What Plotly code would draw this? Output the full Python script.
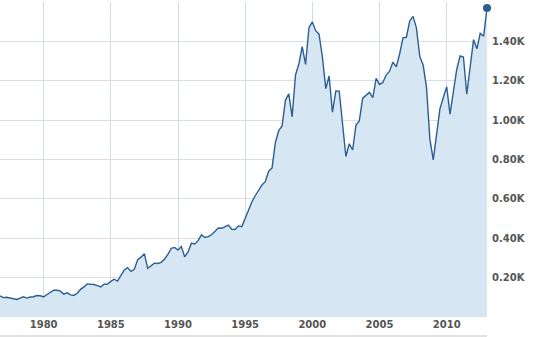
import plotly.graph_objects as go

# Quarterly values (dated at quarter start), 1976 Q4 .. 2013 Q1
quarters = [
    "1976-10-01",
    "1977-01-01", "1977-04-01", "1977-07-01", "1977-10-01",
    "1978-01-01", "1978-04-01", "1978-07-01", "1978-10-01",
    "1979-01-01", "1979-04-01", "1979-07-01", "1979-10-01",
    "1980-01-01", "1980-04-01", "1980-07-01", "1980-10-01",
    "1981-01-01", "1981-04-01", "1981-07-01", "1981-10-01",
    "1982-01-01", "1982-04-01", "1982-07-01", "1982-10-01",
    "1983-01-01", "1983-04-01", "1983-07-01", "1983-10-01",
    "1984-01-01", "1984-04-01", "1984-07-01", "1984-10-01",
    "1985-01-01", "1985-04-01", "1985-07-01", "1985-10-01",
    "1986-01-01", "1986-04-01", "1986-07-01", "1986-10-01",
    "1987-01-01", "1987-04-01", "1987-07-01", "1987-10-01",
    "1988-01-01", "1988-04-01", "1988-07-01", "1988-10-01",
    "1989-01-01", "1989-04-01", "1989-07-01", "1989-10-01",
    "1990-01-01", "1990-04-01", "1990-07-01", "1990-10-01",
    "1991-01-01", "1991-04-01", "1991-07-01", "1991-10-01",
    "1992-01-01", "1992-04-01", "1992-07-01", "1992-10-01",
    "1993-01-01", "1993-04-01", "1993-07-01", "1993-10-01",
    "1994-01-01", "1994-04-01", "1994-07-01", "1994-10-01",
    "1995-01-01", "1995-04-01", "1995-07-01", "1995-10-01",
    "1996-01-01", "1996-04-01", "1996-07-01", "1996-10-01",
    "1997-01-01", "1997-04-01", "1997-07-01", "1997-10-01",
    "1998-01-01", "1998-04-01", "1998-07-01", "1998-10-01",
    "1999-01-01", "1999-04-01", "1999-07-01", "1999-10-01",
    "2000-01-01", "2000-04-01", "2000-07-01", "2000-10-01",
    "2001-01-01", "2001-04-01", "2001-07-01", "2001-10-01",
    "2002-01-01", "2002-04-01", "2002-07-01", "2002-10-01",
    "2003-01-01", "2003-04-01", "2003-07-01", "2003-10-01",
    "2004-01-01", "2004-04-01", "2004-07-01", "2004-10-01",
    "2005-01-01", "2005-04-01", "2005-07-01", "2005-10-01",
    "2006-01-01", "2006-04-01", "2006-07-01", "2006-10-01",
    "2007-01-01", "2007-04-01", "2007-07-01", "2007-10-01",
    "2008-01-01", "2008-04-01", "2008-07-01", "2008-10-01",
    "2009-01-01", "2009-04-01", "2009-07-01", "2009-10-01",
    "2010-01-01", "2010-04-01", "2010-07-01", "2010-10-01",
    "2011-01-01", "2011-04-01", "2011-07-01", "2011-10-01",
    "2012-01-01", "2012-04-01", "2012-07-01", "2012-10-01",
    "2013-01-01",
]

values = [
    107.5,
    98.4, 100.5, 96.5, 95.1,
    89.2, 95.5, 102.5, 96.1,
    101.6, 102.9, 109.3, 107.9,
    102.1, 114.2, 125.5, 135.8,
    136.0, 131.2, 116.2, 122.6,
    112.0, 109.6, 120.4, 140.6,
    153.0, 168.1, 166.1, 164.9,
    159.2, 153.2, 166.1, 167.2,
    180.7, 191.9, 182.1, 211.3,
    238.9, 250.8, 231.3, 242.2,
    291.7, 304.0, 321.8, 247.1,
    258.9, 273.5, 271.9, 277.7,
    294.9, 318.0, 349.2, 353.4,
    339.9, 358.0, 306.1, 330.2,
    375.2, 371.2, 387.9, 417.1,
    403.7, 408.1, 417.8, 435.7,
    451.7, 450.5, 458.9, 466.5,
    445.8, 444.3, 462.7, 459.3,
    500.7, 544.8, 584.4, 615.9,
    645.5, 670.6, 687.3, 740.7,
    757.1, 885.1, 947.3, 970.4,
    1101.8, 1133.8, 1017.0, 1229.2,
    1286.4, 1372.7, 1282.7, 1469.3,
    1498.6, 1454.6, 1436.5, 1320.3,
    1160.3, 1224.4, 1040.9, 1148.1,
    1147.4, 989.8, 815.3, 879.8,
    848.2, 974.5, 996.0, 1111.9,
    1126.2, 1140.8, 1114.6, 1211.9,
    1180.6, 1191.3, 1228.8, 1248.3,
    1294.8, 1270.2, 1335.9, 1418.3,
    1420.9, 1503.4, 1526.8, 1468.4,
    1322.7, 1280.0, 1166.4, 903.3,
    797.9, 919.3, 1057.1, 1115.1,
    1169.4, 1030.7, 1141.2, 1257.6,
    1325.8, 1320.6, 1131.4, 1257.6,
    1408.5, 1362.2, 1440.7, 1426.2,
    1569.2,
]

x_tick_years = ["1980-01-01", "1985-01-01", "1990-01-01", "1995-01-01",
                "2000-01-01", "2005-01-01", "2010-01-01"]
x_tick_labels = ["1980", "1985", "1990", "1995", "2000", "2005", "2010"]

y_tick_vals = [0, 200, 400, 600, 800, 1000, 1200, 1400, 1600]
y_tick_labels = ["", "0.20K", "0.40K", "0.60K", "0.80K", "1.00K", "1.20K", "1.40K", ""]

LINE = "#2b5f91"
FILL = "#d6e6f2"

fig = go.Figure()
fig.add_trace(go.Scatter(
    x=quarters, y=values, mode="lines",
    line=dict(color=LINE, width=1.4),
    fill="tozeroy", fillcolor=FILL,
    hoverinfo="skip", showlegend=False,
))
fig.add_trace(go.Scatter(
    x=[quarters[-1]], y=[values[-1]], mode="markers",
    marker=dict(color=LINE, size=8),
    cliponaxis=False, hoverinfo="skip", showlegend=False,
))

fig.update_layout(
    width=542, height=337,
    margin=dict(l=0, r=55, t=2, b=20),
    paper_bgcolor="white", plot_bgcolor="white",
    font=dict(family="DejaVu Sans", size=10, color="#555555"),
    hovermode=False,
    xaxis=dict(
        type="date",
        range=[quarters[0], quarters[-1]],
        tickvals=x_tick_years, ticktext=x_tick_labels,
        showgrid=True, gridcolor="#cfdce8", gridwidth=1,
        zeroline=False, showline=False, ticks="",
        automargin=False,
        tickfont=dict(family="DejaVu Sans", size=10, color="#555555", weight="bold"),
    ),
    yaxis=dict(
        side="right",
        range=[0, 1600],
        tickvals=y_tick_vals, ticktext=y_tick_labels,
        showgrid=True, gridcolor="#d6dee6", gridwidth=1,
        zeroline=False, showline=False, ticks="",
        automargin=False,
        ticklabelstandoff=4,
        tickfont=dict(family="DejaVu Sans", size=10, color="#555555", weight="bold"),
    ),
    shapes=[dict(
        type="rect", xref="paper", yref="paper",
        x0=0, x1=1, y0=-0.066, y1=-0.057,
        fillcolor="#e2e2e2", line=dict(width=0), layer="above",
    )],
)

fig.write_html(
    "out.html",
    config={"displayModeBar": False, "staticPlot": True},
    post_script="document.body.style.margin='0';document.body.style.padding='0';",
)
